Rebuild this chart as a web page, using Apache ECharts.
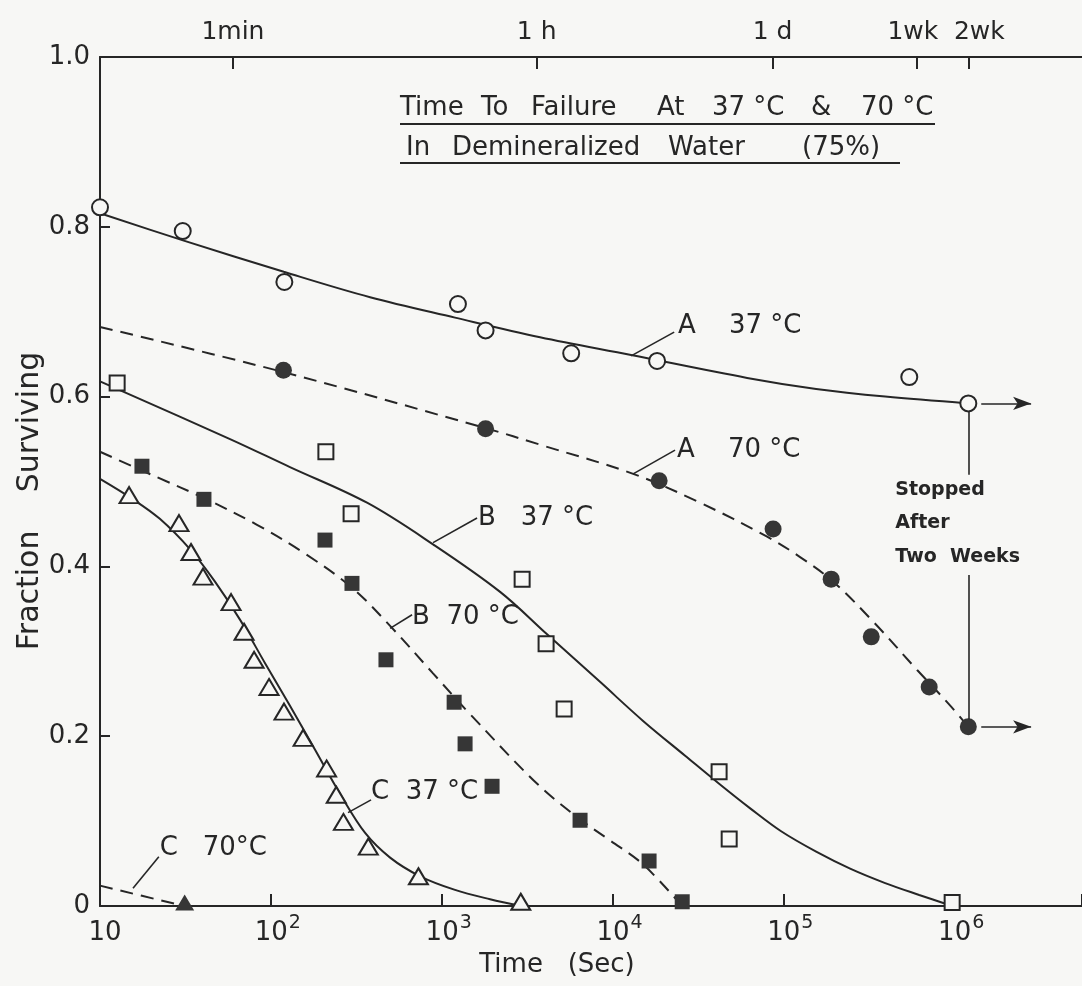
<!DOCTYPE html>
<html>
<head>
<meta charset="utf-8">
<title>Time To Failure At 37 °C & 70 °C</title>
<script src="https://cdn.jsdelivr.net/npm/echarts@6.0.0/dist/echarts.min.js"></script>
<style>
  html, body { margin: 0; padding: 0; background: #f7f7f5; }
  #chart { width: 1082px; height: 986px; }
</style>
</head>
<body>
<div id="chart"></div>
<script>
// time in seconds, fraction surviving
const a37Points = [[10, 0.823], [30.5, 0.795], [120, 0.735], [1245, 0.709], [1807, 0.678], [5730, 0.651], [18240, 0.642], [546000, 0.623], [1210000, 0.592]];
const a37Curve = [[10, 0.816], [30.6, 0.784], [119, 0.747], [381, 0.717], [1197, 0.693], [3767, 0.670], [12850, 0.649], [61380, 0.622], [155600, 0.609], [394500, 0.600], [1210000, 0.592]];

const a70Points = [[118.5, 0.631], [1807, 0.562], [18750, 0.501], [87100, 0.444], [190500, 0.385], [327000, 0.317], [714000, 0.258], [1210000, 0.211]];
const a70Curve = [[10, 0.682], [117.8, 0.629], [1795, 0.563], [3819, 0.543], [13210, 0.509], [32580, 0.475], [80350, 0.435], [125300, 0.411], [195800, 0.382], [335700, 0.335], [607000, 0.278], [948000, 0.236], [1210000, 0.211]];

const b37Points = [[12.6, 0.616], [210, 0.535], [295, 0.462], [2958, 0.385], [4085, 0.309], [5210, 0.232], [42070, 0.158], [48190, 0.079], [973000, 0.004]];
const b37Curve = [[10, 0.618], [57.7, 0.550], [129.4, 0.517], [365.6, 0.475], [890, 0.426], [2198, 0.370], [4140, 0.320], [8450, 0.264], [15100, 0.218], [26610, 0.177], [42070, 0.144], [63970, 0.115], [97050, 0.088], [155600, 0.064], [246000, 0.044], [394500, 0.027], [624000, 0.013], [973000, 0]];

const b70Points = [[17.6, 0.518], [40.6, 0.479], [207.5, 0.431], [298.5, 0.380], [472, 0.290], [1183, 0.240], [1371, 0.191], [1972, 0.141], [6457, 0.101], [16370, 0.053], [25590, 0.005]];
const b70Curve = [[10, 0.535], [21.6, 0.505], [40.1, 0.481], [83, 0.449], [158.5, 0.415], [298.5, 0.375], [499, 0.330], [890, 0.274], [1466, 0.226], [3664, 0.143], [6457, 0.102], [9550, 0.078], [15100, 0.049], [25530, 0]];

const c37Points = [[14.8, 0.484], [29.0, 0.451], [34.1, 0.417], [40.1, 0.388], [58.5, 0.358], [69.7, 0.323], [79.8, 0.290], [97.6, 0.258], [119.4, 0.229], [154.5, 0.198], [212, 0.162], [241.5, 0.131], [266, 0.099], [372, 0.070], [731, 0.035], [2904, 0.005]];
const c37Curve = [[10, 0.503], [15.6, 0.479], [22.4, 0.456], [33.7, 0.420], [47.1, 0.382], [66.1, 0.337], [92.5, 0.286], [129.4, 0.236], [181.5, 0.184], [254.3, 0.132], [356.5, 0.086], [499, 0.057], [748, 0.035], [1197, 0.019], [1919, 0.008], [2917, 0]];

const c70Points = [[31.3, 0.004]];
const c70Curve = [[10, 0.024], [31, 0]];

// top axis: seconds -> name
const timeMarks = [60, 3600, 86400, 604800, 1209600];
const timeNames = ["1min", "1 h", "1 d", "1wk", "2wk"];

// curve labels [time, fraction, text] and their leader lines
const curveLabels = [
  [24210, 0.683, "A    37 °C"],
  [23880, 0.537, "A    70 °C"],
  [1633, 0.457, "B   37 °C"],
  [671, 0.340, "B  70 °C"],
  [386, 0.134, "C  37 °C"],
  [22.4, 0.068, "C   70°C"],
];
const leaders = [
  [[12850, 0.648], [22960, 0.676]],
  [[13210, 0.509], [23230, 0.537]],
  [[890, 0.428], [1611, 0.457]],
  [[499, 0.327], [671, 0.343]],
  [[283, 0.110], [386, 0.125]],
  [[15.6, 0.021], [22.1, 0.058]],
];
const stopNote = [[452000, 0.490, "Stopped"], [452000, 0.451, "After"], [452000, 0.411, "Two  Weeks"]];
const stopLines = [
  [[1210000, 0.582], [1210000, 0.508]],
  [[1210000, 0.390], [1210000, 0.220]],
];
const arrows = [
  [[1440000, 0.592], [2820000, 0.592]],
  [[1440000, 0.211], [2820000, 0.211]],
];

const X_MIN = 10;
const X_MAX = 5600000;
const INK = "#262626";
const FILL = "#363636";
const PAPER = "#f7f7f5";
const FONT = "DejaVu Sans";

function curve(name, data, dashed) {
  return {
    name: name,
    type: "line",
    data: data,
    smooth: 0.35,
    symbol: "none",
    silent: true,
    z: 2,
    lineStyle: { color: INK, width: 2, type: dashed ? [13, 8] : "solid" },
  };
}

function marks(name, data, symbol, filled, size) {
  return {
    name: name,
    type: "scatter",
    data: data,
    symbol: symbol,
    symbolSize: size,
    silent: true,
    z: 3,
    itemStyle: {
      color: filled ? FILL : PAPER,
      borderColor: INK,
      borderWidth: filled ? 0 : 2,
      opacity: 1,
    },
  };
}

function decadeLabel(v) {
  const e = Math.round(Math.log10(v));
  if (Math.abs(v - Math.pow(10, e)) > v * 1e-6) return "";
  return e === 1 ? "{b|10}" : "{p|10}{s|" + e + "}";
}

function timeLabel(v) {
  const i = timeMarks.findIndex((t) => Math.abs(t - v) / t < 1e-3);
  if (i < 0) return "";
  if (i === timeNames.length - 1) return "{r|" + timeNames[i] + "}";
  if (i === timeNames.length - 2) return "{l|" + timeNames[i] + "}";
  return "{t|" + timeNames[i] + "}";
}

const axisLine = { show: true, lineStyle: { color: INK, width: 2 } };
const tickStyle = { color: INK, width: 2 };
const topText = { fontSize: 25, fontFamily: FONT, color: INK };

const chart = echarts.init(document.getElementById("chart"));

chart.setOption({
  backgroundColor: PAPER,
  animation: false,
  textStyle: { fontFamily: FONT, color: INK },
  grid: { left: 100, right: 0, top: 57, bottom: 80, containLabel: false, outerBoundsMode: "none" },
  xAxis: [
    {
      type: "log",
      min: X_MIN,
      max: X_MAX,
      position: "bottom",
      axisLine: axisLine,
      axisTick: { show: true, inside: true, length: 12, lineStyle: tickStyle },
      minorTick: { show: false },
      splitLine: { show: false },
      axisLabel: {
        margin: 12,
        formatter: decadeLabel,
        rich: {
          b: { fontSize: 26, fontFamily: FONT, color: INK, lineHeight: 28, verticalAlign: "bottom", padding: [0, 0, 0, 10] },
          p: { fontSize: 26, fontFamily: FONT, color: INK, lineHeight: 28, verticalAlign: "bottom", padding: [0, 0, 0, 14] },
          s: { fontSize: 19, fontFamily: FONT, color: INK, lineHeight: 20, verticalAlign: "bottom", padding: [0, 0, 13, 1] },
        },
      },
    },
    {
      type: "log",
      min: X_MIN,
      max: X_MAX,
      position: "top",
      axisLine: axisLine,
      axisTick: { show: true, inside: true, length: 12, interval: 0, lineStyle: tickStyle, customValues: timeMarks },
      minorTick: { show: false },
      splitLine: { show: false },
      axisLabel: {
        margin: 12,
        interval: 0,
        hideOverlap: false,
        customValues: timeMarks,
        formatter: timeLabel,
        rich: {
          t: topText,
          l: Object.assign({ padding: [0, 8, 0, 0] }, topText),
          r: Object.assign({ padding: [0, 0, 0, 22] }, topText),
        },
      },
    },
  ],
  yAxis: {
    type: "value",
    min: 0,
    max: 1,
    interval: 0.2,
    axisLine: axisLine,
    axisTick: { show: true, inside: true, length: 10, lineStyle: tickStyle },
    splitLine: { show: false },
    axisLabel: {
      margin: 10,
      fontSize: 26,
      fontFamily: FONT,
      color: INK,
      formatter: (v) => (v === 0 ? "0" : v.toFixed(1)),
    },
  },
  graphic: [
    // title, two underlined lines
    ...[["Time", 400], ["To", 481], ["Failure", 531], ["At", 657], ["37 °C", 712], ["&", 811], ["70 °C", 861]].map(([t, x]) => ({
      type: "text", x: x, y: 108, silent: true,
      style: { text: t, fontSize: 26, fontFamily: FONT, fill: INK, align: "left", verticalAlign: "middle" },
    })),
    ...[["In", 406], ["Demineralized", 452], ["Water", 668], ["(75%)", 802]].map(([t, x]) => ({
      type: "text", x: x, y: 148, silent: true,
      style: { text: t, fontSize: 26, fontFamily: FONT, fill: INK, align: "left", verticalAlign: "middle" },
    })),
    { type: "line", silent: true, shape: { x1: 400, y1: 124, x2: 935, y2: 124 }, style: { stroke: INK, lineWidth: 2 } },
    { type: "line", silent: true, shape: { x1: 400, y1: 163, x2: 900, y2: 163 }, style: { stroke: INK, lineWidth: 2 } },
    // axis names
    {
      type: "text", x: 30, y: 501, rotation: Math.PI / 2, silent: true,
      style: { text: "Fraction    Surviving", fontSize: 30, fontFamily: FONT, fill: INK, align: "center", verticalAlign: "middle" },
    },
    {
      type: "text", x: 557, y: 965, silent: true,
      style: { text: "Time   (Sec)", fontSize: 26, fontFamily: FONT, fill: INK, align: "center", verticalAlign: "middle" },
    },
  ],
  series: [
    curve("A 37 °C fit", a37Curve, false),
    curve("A 70 °C fit", a70Curve, true),
    curve("B 37 °C fit", b37Curve, false),
    curve("B 70 °C fit", b70Curve, true),
    curve("C 37 °C fit", c37Curve, false),
    curve("C 70 °C fit", c70Curve, true),
    marks("A 37 °C", a37Points, "circle", false, 16),
    marks("A 70 °C", a70Points, "circle", true, 17),
    marks("B 37 °C", b37Points, "rect", false, 15),
    marks("B 70 °C", b70Points, "rect", true, 15),
    marks("C 37 °C", c37Points, "triangle", false, [19, 16]),
    marks("C 70 °C", c70Points, "triangle", true, [19, 16]),
    {
      name: "notes",
      type: "scatter",
      symbolSize: 0,
      silent: true,
      z: 4,
      itemStyle: { opacity: 1 },
      data: curveLabels
        .map(([x, y, t]) => ({ value: [x, y], name: t }))
        .concat(stopNote.map(([x, y, t]) => ({ value: [x, y], name: t, label: { fontSize: 19, fontWeight: "bold" } }))),
      label: {
        show: true,
        position: "right",
        distance: 0,
        formatter: (p) => p.name,
        fontSize: 26,
        fontFamily: FONT,
        color: INK,
        opacity: 1,
      },
      markLine: {
        silent: true,
        animation: false,
        symbol: "none",
        label: { show: false },
        emphasis: { disabled: true },
        lineStyle: { color: INK, width: 1.6, type: "solid", opacity: 1 },
        data: leaders
          .concat(stopLines)
          .map(([a, b]) => [{ coord: a }, { coord: b }])
          .concat(arrows.map(([a, b]) => [{ coord: a, symbol: "none" }, { coord: b, symbol: "arrow", symbolSize: [10, 18] }])),
      },
    },
  ],
});
</script>
</body>
</html>
